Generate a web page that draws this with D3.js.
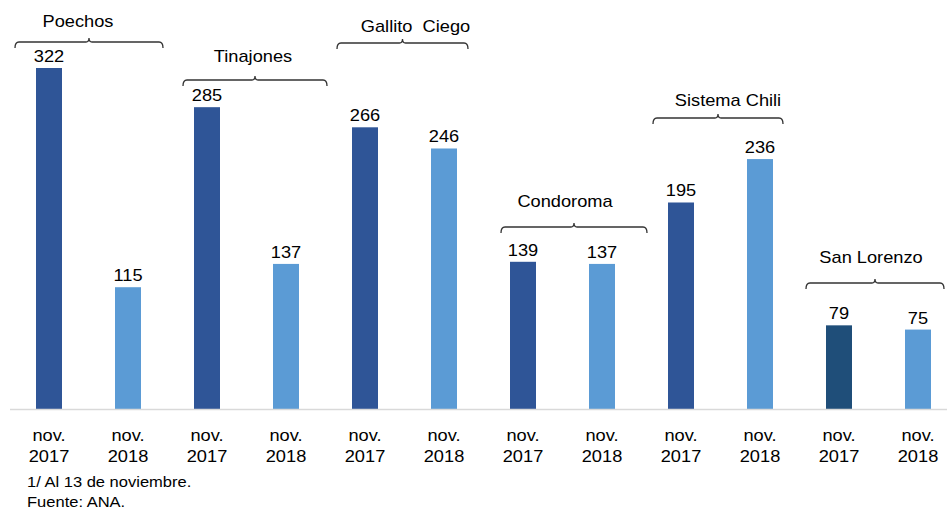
<!DOCTYPE html>
<html>
<head>
<meta charset="utf-8">
<script src="https://cdn.jsdelivr.net/npm/d3@7"></script>
<style>
  body { margin: 0; background: #fff; }
  text { font-family: "Liberation Sans", Arial, sans-serif; fill: #000; }
</style>
</head>
<body>
<div id="chart"></div>
<script>
// Data
const reservoirs = ["Poechos", "Tinajones", "Gallito\u00a0 Ciego", "Condoroma", "Sistema Chili", "San Lorenzo"];
const periods = ["nov. 2017", "nov. 2018"];
const values2017 = [322, 285, 266, 139, 195, 79];
const values2018 = [115, 137, 246, 137, 236, 75];
const footnotes = ["1/ Al 13 de noviembre.", "Fuente: ANA."];

// Bracket layout (annotation placement, pixels relative to bar centres)
const bracketLayout = [
  { left: -34, right: 35, lineY: 42, labelY: 27, labelDx: -11 },
  { left: -24, right: 41, lineY: 80, labelY: 62, labelDx: -2 },
  { left: -28, right: 24, lineY: 43, labelY: 32, labelDx: 13 },
  { left: -22, right: 45, lineY: 227, labelY: 207, labelDx: -9 },
  { left: -28, right: 23, lineY: 118, labelY: 106, labelDx: 10 },
  { left: -33, right: 26, lineY: 283, labelY: 263, labelDx: -4 }
];

const W = 947, H = 510;
const stretch = 1.14; // text in the reference is slightly wide

const bars = [];
reservoirs.forEach((r, i) => {
  bars.push({ key: i + "-0", res: i, period: periods[0], value: values2017[i] });
  bars.push({ key: i + "-1", res: i, period: periods[1], value: values2018[i] });
});

const svg = d3.select("#chart").append("svg")
  .attr("width", W)
  .attr("height", H);

const x = d3.scaleBand()
  .domain(bars.map(d => d.key))
  .range([9.5, 957.5])
  .padding(0);

const y = d3.scaleLinear()
  .domain([0, 322])
  .range([409, 68]);

const barW = 26;
const cx = key => x(key) + x.bandwidth() / 2;

function colorOf(d) {
  if (d.period === periods[1]) return "#5B9BD5";
  return d.res === 5 ? "#1F4E79" : "#2F5597";
}

function stretchedText(sel, tx, ty) {
  return sel.attr("transform", `translate(${tx},${ty}) scale(${stretch},1)`);
}

// Bars
svg.selectAll(".bar")
  .data(bars)
  .enter()
  .append("rect")
  .attr("class", "bar")
  .attr("x", d => cx(d.key) - barW / 2)
  .attr("y", d => y(d.value))
  .attr("width", barW)
  .attr("height", d => y(0) - y(d.value))
  .attr("fill", colorOf);

// Value labels
svg.selectAll(".value")
  .data(bars)
  .enter()
  .append("text")
  .attr("class", "value")
  .attr("text-anchor", "middle")
  .style("font-size", "16px")
  .each(function (d) {
    stretchedText(d3.select(this), cx(d.key), y(d.value) - 6);
  })
  .text(d => d.value);

// X axis
const xAxis = svg.append("g")
  .attr("transform", `translate(0,${y(0)})`)
  .call(d3.axisBottom(x).tickSize(0).tickSizeOuter(0).tickFormat(k => bars.find(b => b.key === k).period));

xAxis.select(".domain")
  .attr("stroke", "#d9d9d9")
  .attr("stroke-width", 1.5);

xAxis.selectAll(".tick text")
  .attr("y", null)
  .attr("dy", null)
  .style("font-size", "16px")
  .style("font-family", "'Liberation Sans', Arial, sans-serif")
  .attr("fill", "#000")
  .attr("transform", `scale(${stretch},1)`)
  .each(function () {
    const t = d3.select(this);
    const parts = t.text().split(" ");
    t.text(null);
    t.append("tspan").attr("x", 0).attr("y", 32).text(parts[0]);
    t.append("tspan").attr("x", 0).attr("y", 53).text(parts[1]);
  });

// Brackets with reservoir names
const bracketG = svg.append("g");
reservoirs.forEach((name, i) => {
  const b = bracketLayout[i];
  const x0 = cx(i + "-0") + b.left;
  const x1 = cx(i + "-1") + b.right;
  const xm = (x0 + x1) / 2;
  const ly = b.lineY;
  const p = d3.path();
  p.moveTo(x0, ly + 6);
  p.quadraticCurveTo(x0, ly, x0 + 4, ly);
  p.lineTo(xm - 3, ly);
  p.quadraticCurveTo(xm, ly, xm, ly - 4);
  p.quadraticCurveTo(xm, ly, xm + 3, ly);
  p.lineTo(x1 - 4, ly);
  p.quadraticCurveTo(x1, ly, x1, ly + 6);
  bracketG.append("path")
    .attr("d", p.toString())
    .attr("fill", "none")
    .attr("stroke", "#333")
    .attr("stroke-width", 1.3);

  stretchedText(bracketG.append("text"), xm + b.labelDx, b.labelY)
    .attr("text-anchor", "middle")
    .style("font-size", "16px")
    .text(name);
});

// Footnotes
footnotes.forEach((f, i) => {
  stretchedText(svg.append("text"), 27, 487 + i * 20)
    .style("font-size", "14.5px")
    .attr("fill", "#1a1a1a")
    .text(f);
});
</script>
</body>
</html>
